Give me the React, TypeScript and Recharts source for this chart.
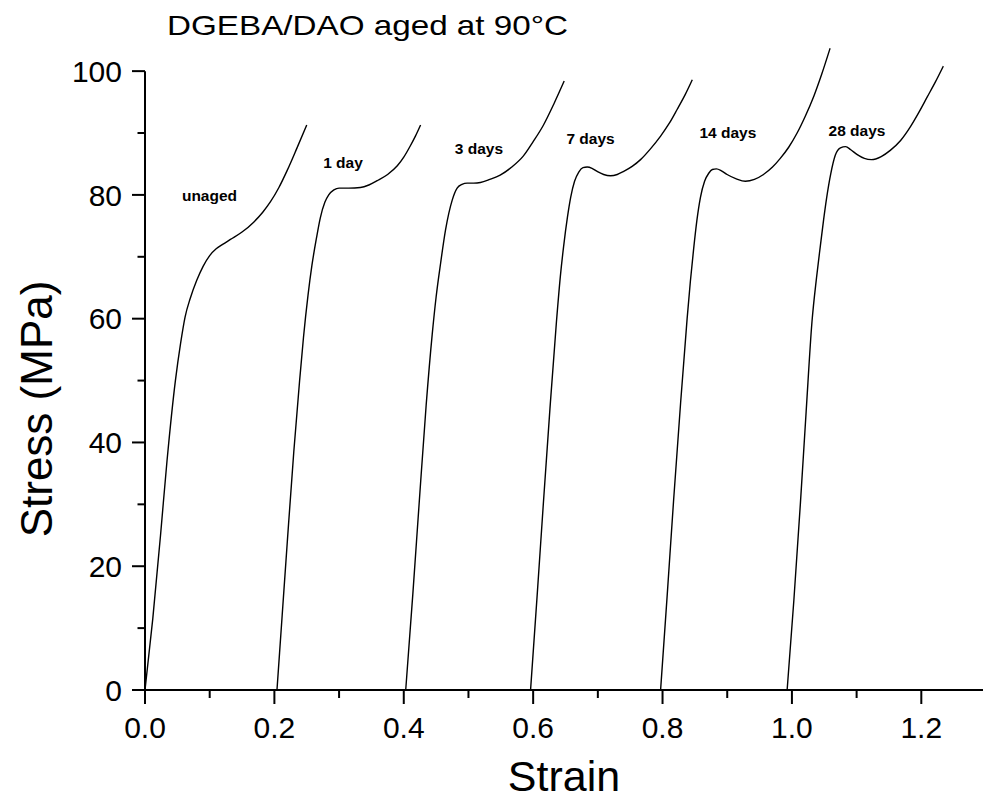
import React from 'react'
import {
  LineChart,
  Line,
  XAxis,
  YAxis,
  ReferenceLine,
  ReferenceDot,
} from 'recharts'

// stress-strain curves, [strain, stress MPa]
const unaged = [
  [0, 0], [0.012, 11.5], [0.024, 25], [0.034, 37], [0.047, 50], [0.055, 56],
  [0.062, 60.3], [0.07, 63.3], [0.08, 66.2], [0.09, 68.5], [0.1, 70.2],
  [0.11, 71.3], [0.12, 72], [0.132, 72.8], [0.15, 74], [0.168, 75.6],
  [0.182, 77.2], [0.194, 78.9], [0.207, 81.2], [0.22, 84], [0.235, 87.6],
  [0.25, 91.3],
]
const day1 = [
  [0.204, 0], [0.212, 12], [0.22, 24], [0.23, 38.5], [0.239, 50], [0.245, 57],
  [0.252, 63.8], [0.258, 68.6], [0.265, 73], [0.271, 76.3], [0.278, 78.8],
  [0.284, 80], [0.292, 80.8], [0.3, 81.1], [0.315, 81.1], [0.333, 81.2],
  [0.346, 81.6], [0.359, 82.3], [0.375, 83.3], [0.39, 84.7], [0.4, 86.1],
  [0.41, 87.9], [0.418, 89.5], [0.426, 91.3],
]
const day3 = [
  [0.403, 0], [0.414, 15.5], [0.424, 30.5], [0.4346, 46], [0.444, 57.5],
  [0.45, 63.5], [0.457, 69], [0.4645, 74.3], [0.475, 79.2], [0.4825, 81.1],
  [0.49, 81.7], [0.498, 81.9], [0.508, 81.9], [0.5185, 82], [0.533, 82.5],
  [0.549, 83.2], [0.567, 84.5], [0.585, 86.3], [0.6, 88.6], [0.616, 91.3],
  [0.632, 94.7], [0.648, 98.4],
]
const day7 = [
  [0.596, 0], [0.606, 15], [0.616, 30.5], [0.626, 45.5], [0.636, 59.5],
  [0.642, 66.8], [0.647, 71.6], [0.653, 76.4], [0.658, 79.6], [0.664, 82.2],
  [0.6705, 83.7], [0.677, 84.4], [0.6835, 84.5], [0.691, 84.3], [0.699, 83.8],
  [0.709, 83.3], [0.7195, 83.1], [0.73, 83.3], [0.74, 83.8], [0.753, 84.6],
  [0.766, 85.7], [0.781, 87.4], [0.797, 89.5], [0.81, 91.5], [0.8225, 93.8],
  [0.835, 96.2], [0.846, 98.6],
]
const day14 = [
  [0.797, 0], [0.807, 15], [0.817, 30.5], [0.828, 46.5], [0.838, 60],
  [0.843, 66], [0.848, 71.2], [0.853, 75.8], [0.8586, 79.6], [0.865, 82.2],
  [0.8714, 83.5], [0.877, 84.1], [0.8833, 84.2], [0.891, 83.9], [0.8998, 83.3],
  [0.914, 82.6], [0.928, 82.2], [0.942, 82.5], [0.956, 83.3], [0.97, 84.5],
  [0.982, 85.9], [0.995, 87.7], [1.008, 90], [1.021, 92.8], [1.034, 96],
  [1.046, 99.5], [1.059, 103.7],
]
const day28 = [
  [0.9926, 0], [1.003, 14.5], [1.013, 30], [1.022, 45], [1.031, 59.5],
  [1.038, 66.6], [1.044, 71.8], [1.049, 76], [1.0535, 79.4], [1.06, 83.4],
  [1.067, 86.4], [1.075, 87.6], [1.083, 87.8], [1.091, 87.3], [1.101, 86.5],
  [1.112, 85.9], [1.123, 85.7], [1.138, 86.2], [1.152, 87.2], [1.168, 88.8],
  [1.183, 91], [1.196, 93.3], [1.209, 95.8], [1.222, 98.3], [1.234, 100.8],
]

const curves = [unaged, day1, day3, day7, day14, day28]

const curveNames = ['unaged', '1 day', '3 days', '7 days', '14 days', '28 days']
const nameStrain = [0.0997, 0.306, 0.5163, 0.6887, 0.901, 1.1006]
const nameStress = [79.9, 85.3, 87.45, 89.07, 90.13, 90.41]

const strainTicks = [0, 0.1, 0.2, 0.3, 0.4, 0.5, 0.6, 0.7, 0.8, 0.9, 1.0, 1.1, 1.2]
const stressTicks = [0, 10, 20, 30, 40, 50, 60, 70, 80, 90, 100]

const FONT = '"Liberation Sans", Arial, Helvetica, sans-serif'

const toRows = (pts: number[][]) => pts.map(([strain, stress]) => ({ strain, stress }))

function StressTick({ x, y, payload }: any) {
  const v = payload.value
  const major = v % 20 === 0
  return (
    <g>
      <line x1={x - (major ? 13 : 7.5)} x2={x} y1={y} y2={y} stroke="#000" strokeWidth={2} />
      {major && (
        <text x={x - 23} y={y + 10.7} textAnchor="end" fontSize={30} fill="#000" fontFamily={FONT}>
          {v}
        </text>
      )}
    </g>
  )
}

function StrainTick({ x, y, payload }: any) {
  const v = payload.value
  const major = Math.round(v * 10) % 2 === 0
  return (
    <g>
      <line x1={x} x2={x} y1={y} y2={y + (major ? 14 : 8)} stroke="#000" strokeWidth={2} />
      {major && (
        <text x={x} y={y + 48} textAnchor="middle" fontSize={30} fill="#000" fontFamily={FONT}>
          {v.toFixed(1)}
        </text>
      )}
    </g>
  )
}

export default function App() {
  return (
    <div
      style={{
        position: 'absolute',
        left: 0,
        top: 0,
        width: 983,
        height: 801,
        overflow: 'hidden',
        background: '#fff',
      }}
    >
      <LineChart width={986} height={801} margin={{ top: 34, right: 0, bottom: 0, left: 0 }}>
        <XAxis
          type="number"
          dataKey="strain"
          domain={[0, 1.3]}
          ticks={strainTicks}
          tick={<StrainTick />}
          tickLine={false}
          tickSize={0}
          tickMargin={0}
          height={111}
          axisLine={{ stroke: '#000', strokeWidth: 2 }}
          interval={0}
        />
        <YAxis
          type="number"
          dataKey="stress"
          domain={[0, 106]}
          ticks={stressTicks}
          tick={<StressTick />}
          tickLine={false}
          tickSize={0}
          tickMargin={0}
          width={145}
          axisLine={false}
          interval={0}
        />
        <ReferenceLine
          segment={[{ x: 0, y: 0 }, { x: 0, y: 100 }]}
          stroke="#000"
          strokeWidth={2}
        />
        {curves.map((pts, i) => (
          <Line
            key={curveNames[i]}
            data={toRows(pts)}
            dataKey="stress"
            type="monotone"
            stroke="#000"
            strokeWidth={1.4}
            dot={false}
            isAnimationActive={false}
          />
        ))}
        {curveNames.map((name, i) => (
          <ReferenceDot
            key={name}
            x={nameStrain[i]}
            y={nameStress[i]}
            r={1}
            fill="none"
            stroke="none"
            label={{
              value: name,
              position: 'center',
              fontSize: 15.5,
              fontWeight: 'bold',
              fill: '#000',
              fontFamily: FONT,
            }}
          />
        ))}
      </LineChart>
      <svg
        width={983}
        height={801}
        style={{ position: 'absolute', left: 0, top: 0, pointerEvents: 'none' }}
        fontFamily={FONT}
      >
        <text x={167} y={35} fontSize={28} textLength={401} lengthAdjust="spacingAndGlyphs" fill="#000">
          DGEBA/DAO aged at 90°C
        </text>
        <text x={564} y={791} fontSize={43} textAnchor="middle" fill="#000">
          Strain
        </text>
        <text
          x={51.5}
          y={409}
          fontSize={44}
          textAnchor="middle"
          fill="#000"
          transform="rotate(-90 51.5 409)"
        >
          Stress (MPa)
        </text>
      </svg>
    </div>
  )
}
